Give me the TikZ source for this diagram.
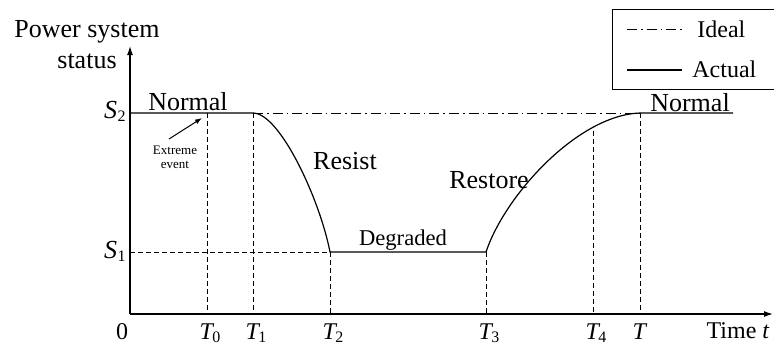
\documentclass[tikz,border=0pt]{standalone}
\usepackage{fontspec}
\setmainfont{Liberation Serif}
\usetikzlibrary{arrows.meta}
\newcommand\lbl[3][0.02em]{\textit{#2}\kern#1\raisebox{-0.3ex}{\fontsize{8}{8}\selectfont #3}}
\begin{document}
\begin{tikzpicture}[x=0.5pt,y=-0.5pt,
  axis/.style={line width=0.6pt,-{Latex[length=4.5pt,width=3pt]}},
  actual/.style={line width=0.6pt},
  ideal/.style={line width=0.5pt,dash pattern=on 5pt off 2pt on 0.8pt off 2pt},
  guide/.style={line width=0.5pt,dash pattern=on 2.5pt off 1.5pt},
  big/.style={inner sep=0pt,font=\fontsize{13}{15}\selectfont},
  mid/.style={inner sep=0pt,font=\fontsize{12}{14}\selectfont},
  small/.style={inner sep=0pt,font=\fontsize{6.5}{7.5}\selectfont},
  legbox/.style={line width=0.5pt}]
\useasboundingbox (0,0) rectangle (774,345);
% key points
\coordinate (O) at (130,314);
\coordinate (Ytop) at (130,46);
\coordinate (Xend) at (773,314);
\coordinate (S2) at (130,113);
\coordinate (S1) at (130,252);
\coordinate (P0) at (207,113);
\coordinate (P1) at (253,113);
\coordinate (P2) at (330,252);
\coordinate (P3) at (486,252);
\coordinate (P4) at (593,131);
\coordinate (P5) at (640,113);
\coordinate (Nend) at (733,113);
\coordinate (B0) at (207,314);
\coordinate (B1) at (253,314);
\coordinate (B2) at (330,314);
\coordinate (B3) at (486,314);
\coordinate (B4) at (593,314);
\coordinate (B5) at (640,314);
% axes
\draw[axis] (O) -- (Ytop);
\draw[axis] (O) -- (Xend);
% guides
\draw[guide] (P0) -- (B0);
\draw[guide] (P1) -- (B1);
\draw[guide] (P2) -- (B2);
\draw[guide] (P3) -- (B3);
\draw[guide] (P4) -- (B4);
\draw[guide] (P5) -- (B5);
\draw[guide] (S1) -- (P2);
% ideal
\draw[ideal] (P1) -- (P5);
% actual
\draw[actual] (S2) -- (P1) .. controls (280,113) and (320,200) .. (P2) -- (P3)
  .. controls (505,195) and (578,115) .. (P5) -- (Nend);
% event arrow
\coordinate (Ea) at (169,139);
\coordinate (Eb) at (202,118);
\draw[line width=0.5pt,-{Latex[length=3.5pt,width=2.5pt]}] (Ea) -- (Eb);
% labels
\node[big,anchor=base] (lps) at (87,37) {Power system};
\node[big,anchor=base] (lst) at (87,68) {status};
\node[big,anchor=base] (ln1) at (188,110) {Normal};
\node[big,anchor=base] (ln2) at (690,111) {Normal};
\node[small,anchor=base] (lex) at (175,154) {Extreme};
\node[small,anchor=base] (lev) at (175,168) {event};
\node[big,anchor=base] (lres) at (345,169) {Resist};
\node[big,anchor=base] (lrst) at (489,188) {Restore};
\node[inner sep=0pt,font=\fontsize{11.3}{13}\selectfont,anchor=base] (ldeg) at (403,245) {Degraded};
\node[big,anchor=base east] (ls2) at (126,118) {\lbl{S}{2}};
\node[big,anchor=base east] (ls1) at (126,258) {\lbl{S}{1}};
\node[mid,anchor=base] (l0) at (122,339) {0};
\node[mid,anchor=base] (lt0) at (210,339) {\lbl[-0.08em]{T}{0}};
\node[mid,anchor=base] (lt1) at (256,339) {\lbl[-0.08em]{T}{1}};
\node[mid,anchor=base] (lt2) at (333,339) {\lbl[-0.08em]{T}{2}};
\node[mid,anchor=base] (lt3) at (489,339) {\lbl[-0.08em]{T}{3}};
\node[mid,anchor=base] (lt4) at (596,339) {\lbl[-0.08em]{T}{4}};
\node[mid,anchor=base] (lt) at (640,339) {\textit{T}};
\node[mid,anchor=base east] (ltime) at (770,338) {Time \textit{t}};
% legend
\draw[legbox] (612,9) rectangle (774,89);
\coordinate (L1a) at (627,29);
\coordinate (L1b) at (682,29);
\coordinate (L2a) at (627,70);
\coordinate (L2b) at (682,70);
\draw[ideal] (L1a) -- (L1b);
\draw[actual] (L2a) -- (L2b);
\node[mid,anchor=base west] (lid) at (697,37) {Ideal};
\node[mid,anchor=base west] (lac) at (692,77) {Actual};
\end{tikzpicture}
\end{document}
